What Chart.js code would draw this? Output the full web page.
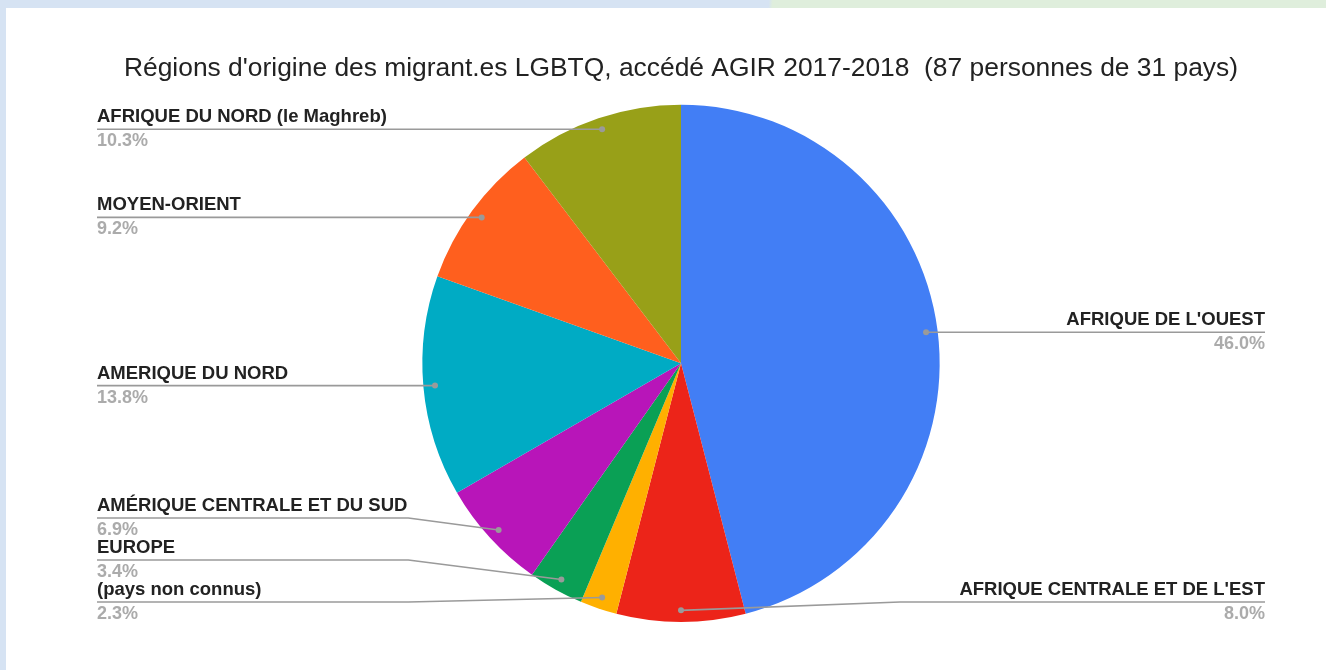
<!DOCTYPE html>
<html>
<head>
<meta charset="utf-8">
<script src="https://cdn.jsdelivr.net/npm/chart.js@4.4.0/dist/chart.umd.min.js"></script>
<style>
  html, body { margin: 0; padding: 0; }
  body { width: 1326px; height: 670px; position: relative; overflow: hidden; background: #d6e3f3; }
  #topstrip { position: absolute; left: 0; top: 0; width: 1326px; height: 8px;
    background: linear-gradient(95deg, #d6e3f3 0, #d6e3f3 766px, #dfeedc 770px, #dfeedc 100%); }
  #card { position: absolute; left: 6px; top: 8px; width: 1320px; height: 662px; background: #fff; }
</style>
</head>
<body>
<div id="topstrip"></div>
<div id="card"><canvas id="pieChart" width="1320" height="662"></canvas></div>
<script>
// Regions, clockwise from 12 o'clock
const regions = [
  "AFRIQUE DE L'OUEST",
  "AFRIQUE CENTRALE ET DE L'EST",
  "(pays non connus)",
  "EUROPE",
  "AMÉRIQUE CENTRALE ET DU SUD",
  "AMERIQUE DU NORD",
  "MOYEN-ORIENT",
  "AFRIQUE DU NORD (le Maghreb)"
];
// number of people (87 total)
const people = [40, 7, 2, 3, 6, 12, 8, 9];
const sliceColors = ['#427ef5', '#ec2419', '#ffb000', '#0aa055', '#b815b9', '#00abc4', '#ff5f1e', '#98a018'];
const chartTitle = "Régions d'origine des migrant.es LGBTQ, accédé AGIR 2017-2018  (87 personnes de 31 pays)";

// Leader-line labels, like the Sheets pie
const leaderLabels = {
    id: 'leaderLabels',
    afterDatasetsDraw(chart) {
        const ctx = chart.ctx;
        const arcs = chart.getDatasetMeta(0).data;
        const total = people.reduce((a, b) => a + b, 0);
        const gap = 42;
        const items = arcs.map((arc, i) => {
            const p = arc.getProps(['x', 'y', 'startAngle', 'endAngle', 'outerRadius'], true);
            const mid = (p.startAngle + p.endAngle) / 2;
            const r = p.outerRadius * 0.955;
            return {
                i: i, cx: p.x, R: p.outerRadius,
                px: p.x + Math.cos(mid) * r,
                py: p.y + Math.sin(mid) * r,
                right: Math.cos(mid) >= 0
            };
        });

        const maxY = chart.chartArea.bottom - 20;
        [true, false].forEach(side => {
            const group = items.filter(it => it.right === side).sort((a, b) => a.py - b.py);
            group.forEach((it, k) => {
                it.ly = k === 0 ? it.py : Math.max(it.py, group[k - 1].ly + gap);
            });
            for (let k = group.length - 1; k >= 0; k--) {
                const lim = k === group.length - 1 ? maxY : group[k + 1].ly - gap;
                group[k].ly = Math.min(group[k].ly, lim);
            }
        });

        const leftX = 91;
        const rightX = chart.width - 61;
        ctx.save();
        items.forEach(it => {
            const elbowX = it.right ? it.cx + 219 : it.cx - it.R - 14;
            const endX = it.right ? rightX : leftX;

            ctx.strokeStyle = '#9a9a9a';
            ctx.lineWidth = 1.6;
            ctx.beginPath();
            ctx.moveTo(it.px, it.py);
            if (Math.abs(it.ly - it.py) > 0.5) ctx.lineTo(elbowX, it.ly);
            ctx.lineTo(endX, it.ly);
            ctx.stroke();

            ctx.fillStyle = '#9a9a9a';
            ctx.beginPath();
            ctx.arc(it.px, it.py, 3, 0, Math.PI * 2);
            ctx.fill();

            ctx.textAlign = it.right ? 'right' : 'left';
            ctx.textBaseline = 'alphabetic';
            ctx.font = 'bold 18.5px "Liberation Sans", Arial, sans-serif';
            ctx.fillStyle = '#222222';
            ctx.fillText(regions[it.i], endX, it.ly - 7);
            ctx.font = 'bold 18px "Liberation Sans", Arial, sans-serif';
            ctx.fillStyle = '#ababab';
            ctx.fillText((people[it.i] / total * 100).toFixed(1) + '%', endX, it.ly + 17);
        });
        ctx.restore();
    }
};

const data = {
    labels: regions,
    datasets: [{
        data: people,
        backgroundColor: sliceColors,
        borderWidth: 0
    }]
};

const config = {
    type: 'pie',
    data: data,
    options: {
        responsive: false,
        animation: false,
        layout: {
            padding: { top: 0, left: 30, right: 0, bottom: 48 }
        },
        plugins: {
            legend: { display: false },
            tooltip: { enabled: false },
            title: {
                display: true,
                text: chartTitle,
                color: '#222222',
                font: { family: '"Liberation Sans", Arial, sans-serif', size: 26.4, weight: 'normal', lineHeight: 1.2 },
                padding: { top: 45, bottom: 20 }
            }
        }
    },
    plugins: [leaderLabels]
};

const chartCtx = document.getElementById('pieChart').getContext('2d');
new Chart(chartCtx, config);
</script>
</body>
</html>
